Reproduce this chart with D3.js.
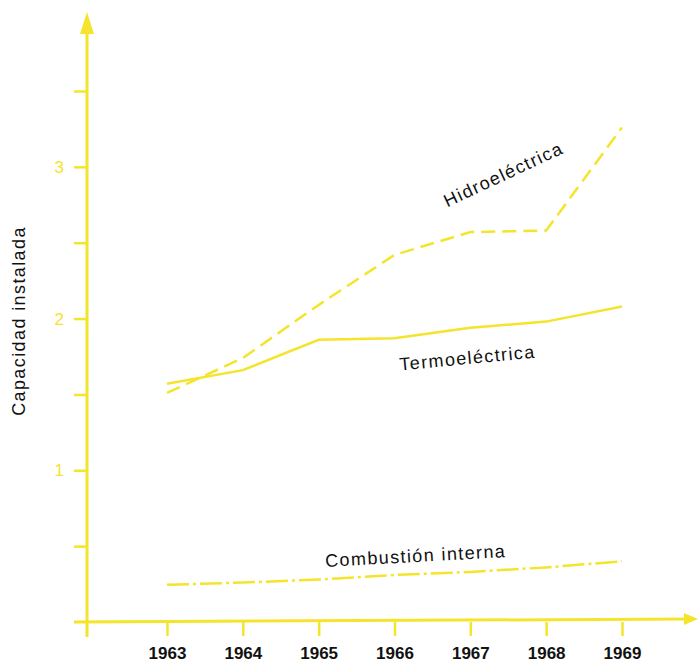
<!DOCTYPE html>
<html>
<head>
<meta charset="utf-8">
<script src="https://cdn.jsdelivr.net/npm/d3@7"></script>
<style>
  body { margin: 0; background: #fff; }
  svg { display: block; }
</style>
</head>
<body>
<div id="vis"></div>
<script>
// valores
var years = [1963, 1964, 1965, 1966, 1967, 1968, 1969];
var hidro = [1.51, 1.74, 2.09, 2.42, 2.57, 2.58, 3.26];
var termo = [1.57, 1.66, 1.86, 1.87, 1.94, 1.98, 2.08];
var combustion = [0.245, 0.26, 0.28, 0.31, 0.33, 0.36, 0.40];
var yTicks = [0.5, 1, 1.5, 2, 2.5, 3, 3.5];

var width = 698, height = 665;
var yellow = "#f4e42c";
var font = "'Liberation Sans', Arial, sans-serif";

var svg = d3.select("#vis").append("svg")
  .attr("width", width)
  .attr("height", height);

var x = d3.scaleLinear().domain([1963, 1969]).range([167, 622]);
var y = d3.scaleLinear().domain([0, 3.5]).range([622, 91]);

var x0 = 87, y0 = y(0);

// eje y
svg.append("line")
  .attr("x1", x0).attr("y1", 637)
  .attr("x2", x0).attr("y2", 30)
  .attr("stroke", yellow).attr("stroke-width", 3);
svg.append("path")
  .attr("d", "M" + x0 + ",12 L" + (x0 - 7) + ",34 L" + (x0 + 7) + ",34 Z")
  .attr("fill", yellow);

// eje x
svg.append("line")
  .attr("x1", 74).attr("y1", y0)
  .attr("x2", 688).attr("y2", y0 - 3)
  .attr("stroke", yellow).attr("stroke-width", 3);
svg.append("path")
  .attr("d", "M698," + (y0 - 3) + " L684," + (y0 - 9) + " L684," + (y0 + 3) + " Z")
  .attr("fill", yellow);

var yAxis = svg.append("g")
  .attr("transform", "translate(" + x0 + ",0)")
  .call(d3.axisLeft(y).tickValues(yTicks).tickSize(13).tickPadding(10)
    .tickFormat(function (d) { return d % 1 === 0 ? d : ""; }));
yAxis.select(".domain").remove();
yAxis.selectAll("line").attr("stroke", yellow).attr("stroke-width", 2.5);
yAxis.selectAll("text")
  .attr("fill", yellow)
  .style("font-family", font)
  .style("font-size", "17px");

var xAxis = svg.append("g")
  .attr("transform", "translate(0," + y0 + ")")
  .call(d3.axisBottom(x).tickValues(years).tickSize(14).tickPadding(11)
    .tickFormat(d3.format("d")));
xAxis.select(".domain").remove();
xAxis.selectAll("line").attr("stroke", yellow).attr("stroke-width", 2.5);
xAxis.selectAll("text")
  .attr("fill", "#111")
  .style("font-family", font)
  .style("font-size", "17px")
  .style("font-weight", "bold");

var line = d3.line()
  .x(function (d, i) { return x(years[i]); })
  .y(function (d) { return y(d); });

svg.append("path")
  .datum(hidro)
  .attr("d", line)
  .attr("fill", "none")
  .attr("stroke", yellow)
  .attr("stroke-width", 2.5)
  .attr("stroke-dasharray", "14,7");

svg.append("path")
  .datum(termo)
  .attr("d", line)
  .attr("fill", "none")
  .attr("stroke", yellow)
  .attr("stroke-width", 2.5);

svg.append("path")
  .datum(combustion)
  .attr("d", line)
  .attr("fill", "none")
  .attr("stroke", yellow)
  .attr("stroke-width", 2.5)
  .attr("stroke-dasharray", "22,4,3,4");

function label(txt, cx, cy, angle) {
  svg.append("text")
    .attr("transform", "translate(" + cx + "," + cy + ") rotate(" + angle + ")")
    .attr("text-anchor", "middle")
    .attr("fill", "#111")
    .style("font-family", font)
    .style("font-size", "18px")
    .style("letter-spacing", "1.4px")
    .text(txt);
}

label("Hidroeléctrica", 506, 180, -25);
label("Termoeléctrica", 468, 364, -5.4);
label("Combustión interna", 416, 562, -3.1);
label("Capacidad instalada", 25, 321, -90);
</script>
</body>
</html>
